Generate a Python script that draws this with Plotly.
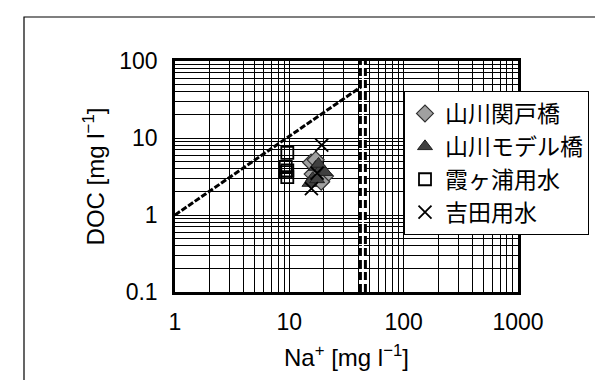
import plotly.graph_objects as go

# ---- data ----
sekido_na = [15.5, 17.0, 20.5, 17.5, 16.0, 19.0]
sekido_doc = [4.8, 5.2, 3.2, 3.8, 3.4, 2.7]

model_na = [17.0, 19.0, 20.5, 16.0, 15.0, 17.5, 18.0]
model_doc = [4.2, 4.0, 3.6, 3.0, 2.6, 2.9, 4.6]

kasumi_na = [9.6, 9.3, 9.6, 9.3, 9.6]
kasumi_doc = [6.4, 4.2, 3.8, 3.6, 3.1]

yoshida_na = [19.2, 15.6, 17.5]
yoshida_doc = [8.1, 2.2, 3.5]

ratio_line_na = [1, 44]
ratio_line_doc = [1, 48]

limit_na = [44, 44]
limit_doc = [0.1, 100]

series_names = ["山川関戸橋", "山川モデル橋", "霞ヶ浦用水", "吉田用水"]

x_major = [1, 10, 100, 1000]
x_major_labels = ["1", "10", "100", "1000"]
y_major = [0.1, 1, 10, 100]
y_major_labels = ["0.1", "1", "10", "100"]

def minor_vals(majors):
    vals = []
    for m in majors[:-1]:
        for k in range(2, 10):
            vals.append(m * k)
    return vals

fig = go.Figure()

fig.add_trace(go.Scatter(x=ratio_line_na, y=ratio_line_doc, mode="lines",
                         line=dict(color="black", width=3, dash="6px,2px"),
                         showlegend=False, hoverinfo="skip"))
fig.add_trace(go.Scatter(x=limit_na, y=limit_doc, mode="lines",
                         line=dict(color="black", width=8, dash="8px,4px"),
                         showlegend=False, hoverinfo="skip"))
fig.add_trace(go.Scatter(x=limit_na, y=limit_doc, mode="lines",
                         line=dict(color="white", width=2),
                         showlegend=False, hoverinfo="skip"))

fig.add_trace(go.Scatter(x=sekido_na, y=sekido_doc, mode="markers", name=series_names[0],
                         marker=dict(symbol="diamond", size=13, color="#a0a0a0",
                                     line=dict(color="#303030", width=1.2))))
fig.add_trace(go.Scatter(x=model_na, y=model_doc, mode="markers", name=series_names[1],
                         marker=dict(symbol="triangle-up", size=13, color="#404040",
                                     line=dict(color="#202020", width=1))))
fig.add_trace(go.Scatter(x=kasumi_na, y=kasumi_doc, mode="markers", name=series_names[2],
                         marker=dict(symbol="square-open", size=12, color="black",
                                     line=dict(color="black", width=1.8))))
fig.add_trace(go.Scatter(x=yoshida_na, y=yoshida_doc, mode="markers", name=series_names[3],
                         marker=dict(symbol="x-thin-open", size=13, color="black",
                                     line=dict(color="black", width=1.8))))

tick_font = dict(family="Liberation Sans, Arial, sans-serif", size=23, color="black")
title_font = dict(family="Liberation Sans, Arial, sans-serif", size=24, color="black")

fig.update_xaxes(type="log", range=[0, 3], tickmode="array", tickvals=x_major, ticktext=x_major_labels,
                 showgrid=True, gridcolor="black", gridwidth=1.3,
                 minor=dict(tickmode="array", tickvals=minor_vals(x_major), showgrid=True,
                            gridcolor="black", gridwidth=1.3, ticks=""),
                 showline=True, linecolor="black", linewidth=2.5, mirror=True,
                 ticks="", tickfont=tick_font, ticklabelstandoff=8,
                 zeroline=False, automargin=False,
                 title=dict(text="Na<sup>+</sup> [mg l<sup>−1</sup>]", font=title_font, standoff=15))
fig.update_yaxes(type="log", range=[-1, 2], tickmode="array", tickvals=y_major, ticktext=y_major_labels,
                 showgrid=True, gridcolor="black", gridwidth=1.3,
                 minor=dict(tickmode="array", tickvals=minor_vals(y_major), showgrid=True,
                            gridcolor="black", gridwidth=1.3, ticks=""),
                 showline=True, linecolor="black", linewidth=2.5, mirror=True,
                 ticks="", tickfont=tick_font, ticklabelstandoff=10,
                 zeroline=False, automargin=False,
                 title=dict(text="DOC [mg l<sup>−1</sup>]", font=title_font, standoff=8))

L, R, T, B = 167, 510, 53, 284
W, H = 603, 380

def px_x(p):
    return (p - L) / (R - L)

def px_y(p):
    return (B - p) / (B - T)

fig.add_shape(type="rect", xref="paper", yref="paper",
              x0=px_x(16), x1=px_x(620), y0=px_y(400), y1=px_y(9),
              line=dict(color="black", width=1.2), fillcolor="rgba(0,0,0,0)", layer="below")

fig.update_layout(
    width=W, height=H,
    margin=dict(l=L, r=W - R, t=T, b=H - B, autoexpand=False),
    paper_bgcolor="white", plot_bgcolor="white",
    showlegend=True,
    legend=dict(x=px_x(396), y=px_y(83), xanchor="left", yanchor="top",
                bgcolor="white", bordercolor="black", borderwidth=1,
                font=dict(family="Noto Sans CJK JP", size=23, color="black"),
                tracegroupgap=0, itemsizing="trace"),
)

fig.write_html("out.html")
